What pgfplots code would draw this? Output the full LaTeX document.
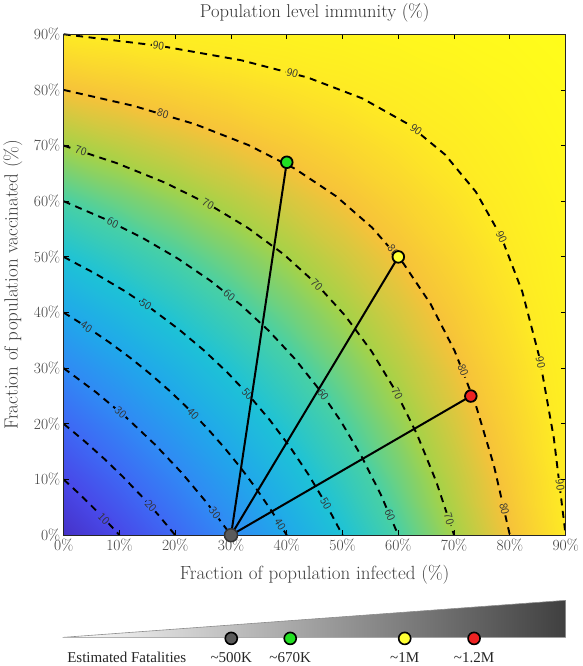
\documentclass[border=0pt]{standalone}
\usepackage{fontspec}
\usepackage{pgfplots}
\pgfplotsset{compat=1.18}
\newfontfamily\timesfont{Liberation Serif}

\definecolor{ptgray}{HTML}{5A5A5A}
\definecolor{ptgreen}{HTML}{22E022}
\definecolor{ptyellow}{HTML}{FFFF33}
\definecolor{ptred}{HTML}{EE2222}
% colormap entries at 10, 20, ..., 90 (used behind contour labels)
\definecolor{c10}{RGB}{72,72,232}
\definecolor{c20}{RGB}{62,104,244}
\definecolor{c30}{RGB}{48,138,244}
\definecolor{c40}{RGB}{32,168,234}
\definecolor{c50}{RGB}{30,194,214}
\definecolor{c60}{RGB}{72,208,165}
\definecolor{c70}{RGB}{165,210,72}
\definecolor{c80}{RGB}{246,194,58}
\definecolor{c90}{RGB}{254,234,36}

\pgfplotsset{
  colormap={immunity}{
    rgb255=(70,50,200) rgb255=(72,72,232) rgb255=(62,104,244)
    rgb255=(48,138,244) rgb255=(32,168,234) rgb255=(30,194,214)
    rgb255=(72,208,165) rgb255=(165,210,72) rgb255=(246,194,58)
    rgb255=(254,234,36) rgb255=(255,255,25)
  },
  contour/.style={black, dash pattern=on 7pt off 5.5pt, line width=1.9pt},
}
\tikzset{clab/.style={inner sep=1pt, font=\sffamily\fontsize{11.5}{12}\selectfont, text=black!80}}

\begin{document}
\begin{tikzpicture}
\begin{axis}[
  name=main,
  scale only axis, width=501pt, height=500pt,
  xmin=0, xmax=90, ymin=0, ymax=90,
  xtick={0,10,...,90}, ytick={0,10,...,90},
  xticklabel={\pgfmathprintnumber{\tick}\%},
  yticklabel={\pgfmathprintnumber{\tick}\%},
  /pgf/number format/assume math mode=true,
  tick align=inside, major tick length=5pt,
  tick style={black, line width=0.8pt},
  axis line style={black!85, line width=0.9pt},
  ticklabel style={font=\fontsize{15.5}{18}\selectfont, text=black!75},
  label style={font=\fontsize{19}{22}\selectfont, text=black!75},
  title={Population level immunity (\%)},
  title style={font=\fontsize{18.5}{22}\selectfont, text=black!80,
    at={([yshift=11pt]axis description cs:0.5,1)}, anchor=base},
  xlabel={Fraction of population infected (\%)},
  ylabel={Fraction of population vaccinated (\%)},
  xlabel style={at={([yshift=-44pt]axis description cs:0.5,0)}, anchor=base},
  ylabel style={at={([xshift=-46pt]axis description cs:0,0.5)}, anchor=base},
  colormap name=immunity, point meta min=0, point meta max=100,
  axis on top, clip=false,
]
% immunity = 100 - (100-x)(100-y)/100 on a 10x10 grid
\addplot[surf, shader=interp, mesh/cols=10, point meta=\thisrow{z}] table {
x y z
0 0 0
10 0 10
20 0 20
30 0 30
40 0 40
50 0 50
60 0 60
70 0 70
80 0 80
90 0 90
0 10 10
10 10 19
20 10 28
30 10 37
40 10 46
50 10 55
60 10 64
70 10 73
80 10 82
90 10 91
0 20 20
10 20 28
20 20 36
30 20 44
40 20 52
50 20 60
60 20 68
70 20 76
80 20 84
90 20 92
0 30 30
10 30 37
20 30 44
30 30 51
40 30 58
50 30 65
60 30 72
70 30 79
80 30 86
90 30 93
0 40 40
10 40 46
20 40 52
30 40 58
40 40 64
50 40 70
60 40 76
70 40 82
80 40 88
90 40 94
0 50 50
10 50 55
20 50 60
30 50 65
40 50 70
50 50 75
60 50 80
70 50 85
80 50 90
90 50 95
0 60 60
10 60 64
20 60 68
30 60 72
40 60 76
50 60 80
60 60 84
70 60 88
80 60 92
90 60 96
0 70 70
10 70 73
20 70 76
30 70 79
40 70 82
50 70 85
60 70 88
70 70 91
80 70 94
90 70 97
0 80 80
10 80 82
20 80 84
30 80 86
40 80 88
50 80 90
60 80 92
70 80 94
80 80 96
90 80 98
0 90 90
10 90 91
20 90 92
30 90 93
40 90 94
50 90 95
60 90 96
70 90 97
80 90 98
90 90 99
};

% contour lines (10 ... 90 %)
\addplot[contour] coordinates {(0,10) (1.74,8.41) (3.45,6.78) (5.13,5.13) (6.78,3.45) (8.41,1.74) (10,0)};
\addplot[contour] coordinates {(0,20) (3.65,16.97) (7.17,13.82) (10.56,10.56) (13.82,7.17) (16.97,3.65) (20,0)};
\addplot[contour] coordinates {(0,30) (5.77,25.71) (11.21,21.16) (16.33,16.33) (21.16,11.21) (25.71,5.77) (30,0)};
\addplot[contour] coordinates {(0,40) (4.17,37.39) (8.16,34.67) (11.99,31.83) (15.66,28.86) (19.17,25.77) (22.54,22.54)
  (25.77,19.17) (28.86,15.66) (31.83,11.99) (34.67,8.16) (37.39,4.17) (40,0)};
\addplot[contour] coordinates {(0,50) (5.61,47.03) (10.91,43.88) (15.91,40.54) (20.63,37.00) (25.08,33.26) (29.29,29.29)
  (33.26,25.08) (37.00,20.63) (40.54,15.91) (43.88,10.91) (47.03,5.61) (50,0)};
\addplot[contour] coordinates {(0,60) (7.35,56.83) (14.16,53.40) (20.47,49.70) (26.32,45.71) (31.74,41.40) (36.75,36.75)
  (41.40,31.74) (45.71,26.32) (49.70,20.47) (53.40,14.16) (56.83,7.35) (60,0)};
\addplot[contour] coordinates {(0,70) (9.55,66.83) (18.18,63.33) (25.99,59.46) (33.06,55.19) (39.45,50.46) (45.23,45.23)
  (50.46,39.45) (55.19,33.06) (59.46,25.99) (63.33,18.18) (66.83,9.55) (70,0)};
\addplot[contour] coordinates {(0,80) (12.55,77.13) (23.53,73.85) (33.13,70.09) (41.52,65.80) (48.86,60.89) (55.28,55.28)
  (60.89,48.86) (65.80,41.52) (70.09,33.13) (73.85,23.53) (77.13,12.55) (80,0)};
\addplot[contour] coordinates {(0,90) (17.46,87.88) (31.87,85.32) (43.77,82.22) (53.58,78.46) (61.69,73.90) (68.38,68.38)
  (73.90,61.69) (78.46,53.58) (82.22,43.77) (85.32,31.87) (87.88,17.46) (90,0)};

% contour labels
\node[clab, fill=c10, rotate=-46] at (axis cs:7.2,3.0) {10};
\node[clab, fill=c20, rotate=-48] at (axis cs:15.6,5.2) {20};
\node[clab, fill=c30, rotate=-41] at (axis cs:10.2,22.05) {30};
\node[clab, fill=c30, rotate=-53] at (axis cs:27.1,3.98) {30};
\node[clab, fill=c40, rotate=-33] at (axis cs:4.1,37.43) {40};
\node[clab, fill=c40, rotate=-45.5] at (axis cs:23.2,21.88) {40};
\node[clab, fill=c40, rotate=-58] at (axis cs:38.8,1.96) {40};
\node[clab, fill=c50, rotate=-34.5] at (axis cs:14.7,41.38) {50};
\node[clab, fill=c50, rotate=-48] at (axis cs:33,25.37) {50};
\node[clab, fill=c50, rotate=-60.7] at (axis cs:47,5.66) {50};
\node[clab, fill=c60, rotate=-25.7] at (axis cs:8.8,56.14) {60};
\node[clab, fill=c60, rotate=-39] at (axis cs:29.7,43.10) {60};
\node[clab, fill=c60, rotate=-54.4] at (axis cs:46.5,25.23) {60};
\node[clab, fill=c60, rotate=-66.7] at (axis cs:58.5,3.61) {60};
\node[clab, fill=c70, rotate=-17.7] at (axis cs:3.1,69.04) {70};
\node[clab, fill=c70, rotate=-28.6] at (axis cs:25.9,59.51) {70};
\node[clab, fill=c70, rotate=-45.2] at (axis cs:45.4,45.05) {70};
\node[clab, fill=c70, rotate=-61.7] at (axis cs:59.8,25.37) {70};
\node[clab, fill=c70, rotate=-72.3] at (axis cs:69.1,2.91) {70};
\node[clab, fill=c80, rotate=-16.5] at (axis cs:17.8,75.7) {80};
\node[clab, fill=c80, rotate=-50] at (axis cs:59.1,51.1) {80};
\node[clab, fill=c80, rotate=-68] at (axis cs:71.6,29.58) {80};
\node[clab, fill=c80, rotate=-77.6] at (axis cs:79,4.76) {80};
\node[clab, fill=c90, rotate=-8.3] at (axis cs:17,87.95) {90};
\node[clab, fill=c90, rotate=-16] at (axis cs:41,83.05) {90};
\node[clab, fill=c90, rotate=-36.4] at (axis cs:63.2,72.83) {90};
\node[clab, fill=c90, rotate=-65.2] at (axis cs:78.5,53.5) {90};
\node[clab, fill=c90, rotate=-78.1] at (axis cs:85.5,31.03) {90};
\node[clab, fill=c90, rotate=-83.1] at (axis cs:89,9.09) {90};

% scenarios, all from 30% infected / 0% vaccinated
\addplot[black, line width=2pt] coordinates {(30,0) (40,67)};
\addplot[black, line width=2pt] coordinates {(30,0) (60,50)};
\addplot[black, line width=2pt] coordinates {(30,0) (73,25)};

\addplot[only marks, mark=*, mark size=6.5pt,
  mark options={fill=ptgray, draw=black!80, line width=1.5pt}] coordinates {(30,0)};
\addplot[only marks, mark=*, mark size=5.8pt,
  mark options={fill=ptgreen, draw=black, line width=1.8pt}] coordinates {(40,67)};
\addplot[only marks, mark=*, mark size=5.8pt,
  mark options={fill=ptyellow, draw=black, line width=1.8pt}] coordinates {(60,50)};
\addplot[only marks, mark=*, mark size=5.8pt,
  mark options={fill=ptred, draw=black, line width=1.8pt}] coordinates {(73,25)};
\end{axis}

% fatalities scale (thousands)
\begin{axis}[
  at={(main.south west)}, anchor=south west, xshift=-1pt, yshift=-102pt,
  scale only axis, width=502pt, height=37pt,
  xmin=14, xmax=1464, ymin=0, ymax=37,
  axis lines=none, clip=false,
  nodes near coords style={font=\timesfont\fontsize{15}{17}\selectfont,
    text=black!85, anchor=base, yshift=-24pt},
]
\addplot[draw=black!45, line width=0.6pt,
  left color=white, middle color=black!25, right color=black!75]
  coordinates {(14,0) (1464,37)} \closedcycle;
\addplot[only marks, mark=*, mark size=6pt,
  mark options={fill=ptgray, draw=black, line width=1.6pt},
  nodes near coords={\textasciitilde 500K}] coordinates {(500,-1)};
\addplot[only marks, mark=*, mark size=6pt,
  mark options={fill=ptgreen, draw=black, line width=1.6pt},
  nodes near coords={\textasciitilde 670K}] coordinates {(670,-1)};
\addplot[only marks, mark=*, mark size=6pt,
  mark options={fill=ptyellow, draw=black, line width=1.6pt},
  nodes near coords={\textasciitilde 1M}] coordinates {(1000,-1)};
\addplot[only marks, mark=*, mark size=6pt,
  mark options={fill=ptred, draw=black, line width=1.6pt},
  nodes near coords={\textasciitilde 1.2M}] coordinates {(1200,-1)};
\node[anchor=base west, font=\timesfont\fontsize{15}{17}\selectfont, text=black!85]
  at (axis cs:17,-25) {Estimated Fatalities};
\end{axis}
\end{tikzpicture}
\end{document}
